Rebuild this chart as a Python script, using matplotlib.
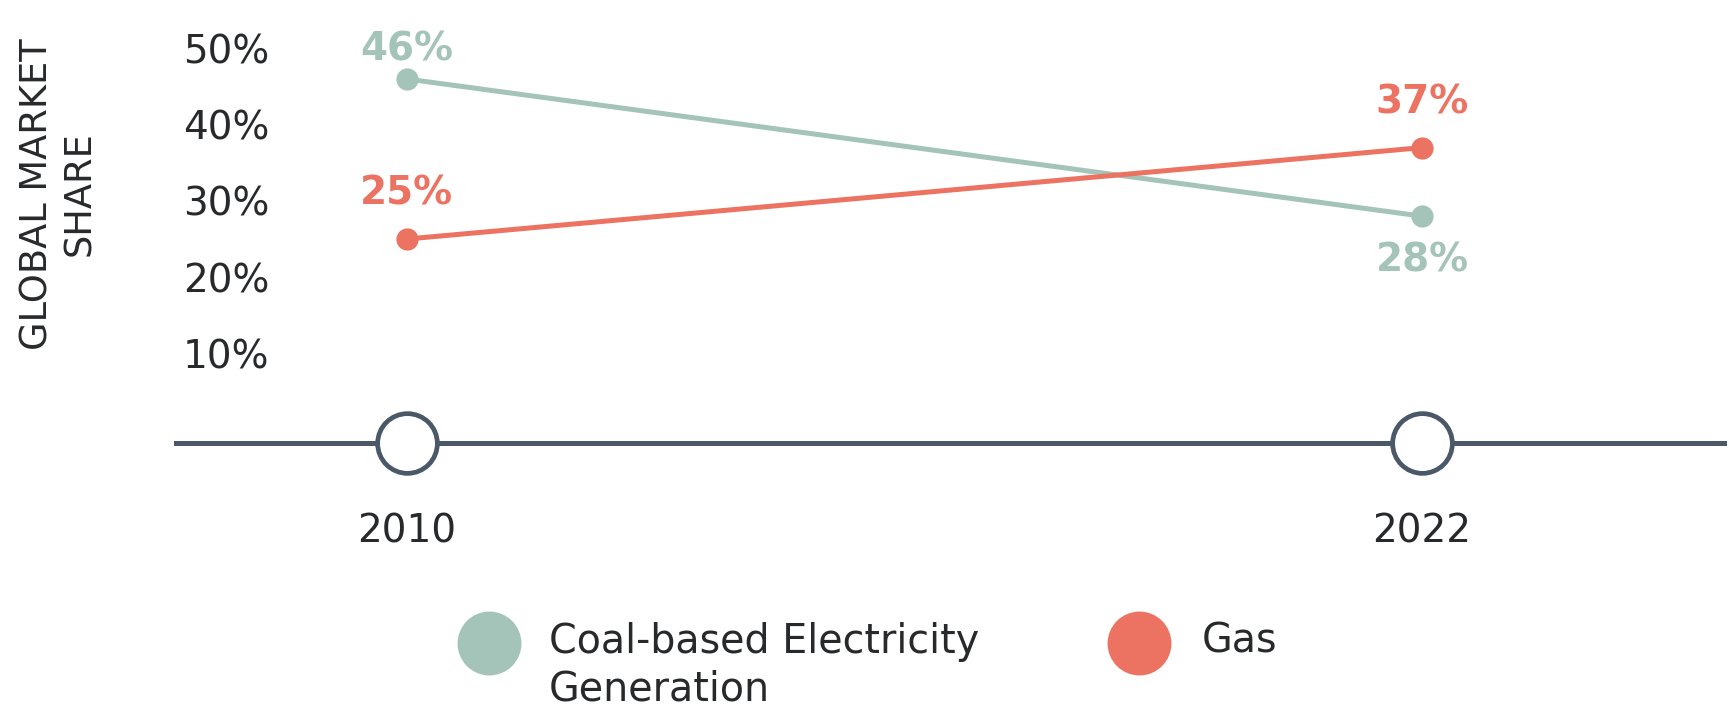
import matplotlib
matplotlib.use("Agg")
import matplotlib.pyplot as plt

# ---- data ----
years = [2010, 2022]
year_labels = ["2010", "2022"]
coal = [46, 28]
gas = [25, 37]
series_names = ["Coal-based Electricity\nGeneration", "Gas"]
ytick_values = [10, 20, 30, 40, 50]
ytick_labels = ["10%", "20%", "30%", "40%", "50%"]
y_label = "GLOBAL MARKET\nSHARE"

# ---- style ----
COAL = "#A4C3B9"
GAS = "#EC7262"
TEXT = "#27292B"
AXIS = "#4A5868"
plt.rcParams["font.family"] = ["DejaVu Sans"]

W, H = 1729, 707
fig = plt.figure(figsize=(W / 100, H / 100), dpi=100)
ax = fig.add_axes([176 / W, 1 - 443 / H, (1724 - 176) / W, 443 / H])
ax.set_xlim(2007.27, 2025.57)
ax.set_ylim(-1.77, 56.37)
ax.patch.set_visible(False)

for s in ["top", "right", "left"]:
    ax.spines[s].set_visible(False)
ax.spines["bottom"].set_color(AXIS)
ax.spines["bottom"].set_linewidth(3.6)
ax.spines["bottom"].set_zorder(1)

ax.set_yticks(ytick_values, ytick_labels)
ax.tick_params(axis="y", length=0, pad=-67, labelsize=28, labelcolor=TEXT)
ax.set_xticks(years, year_labels)
ax.tick_params(axis="x", length=0, pad=50, labelsize=28, labelcolor=TEXT)

# open circles on the time axis
ax.plot(years, [0, 0], transform=ax.get_xaxis_transform(), ls="none",
        marker="o", ms=43, mfc="white", mec=AXIS, mew=3.4, clip_on=False, zorder=5)

# series lines
ax.plot(years, coal, color=COAL, lw=3.6, marker="o", ms=16, mew=0, zorder=3, clip_on=False)
ax.plot(years, gas, color=GAS, lw=3.6, marker="o", ms=16, mew=0, zorder=3, clip_on=False)

# value labels (offsets in points: baseline relative to the point)
coal_offsets = [13, -40]
gas_offsets = [25, 24.5]
for x, v, off in zip(years, coal, coal_offsets):
    ax.annotate(f"{v}%", (x, v), xytext=(0, off), textcoords="offset points",
                ha="center", va="baseline", fontsize=28, fontweight="bold", color=COAL)
for x, v, off in zip(years, gas, gas_offsets):
    ax.annotate(f"{v}%", (x, v), xytext=(0, off), textcoords="offset points",
                ha="center", va="baseline", fontsize=28, fontweight="bold", color=GAS)

# y-axis title
fig.text(58 / W, 1 - 194 / H, y_label, rotation=90, ha="center", va="center",
         multialignment="center", fontsize=26.5, color=TEXT)

# legend (manual, in pixel layout)
lax = fig.add_axes([0, 0, 1, 1])
lax.set_xlim(0, W)
lax.set_ylim(H, 0)
lax.axis("off")
legend_marker_x = [489, 1139]
legend_text_x = [549, 1202]
legend_y = 643
for name, color, mx, tx in zip(series_names, [COAL, GAS], legend_marker_x, legend_text_x):
    lax.plot([mx], [legend_y], marker="o", ms=46, mew=0, color=color, ls="none")
    lax.text(tx, 621.5, name, ha="left", va="top", fontsize=28.5,
             color=TEXT, linespacing=1.25)

fig.savefig("out.png", dpi=100)
